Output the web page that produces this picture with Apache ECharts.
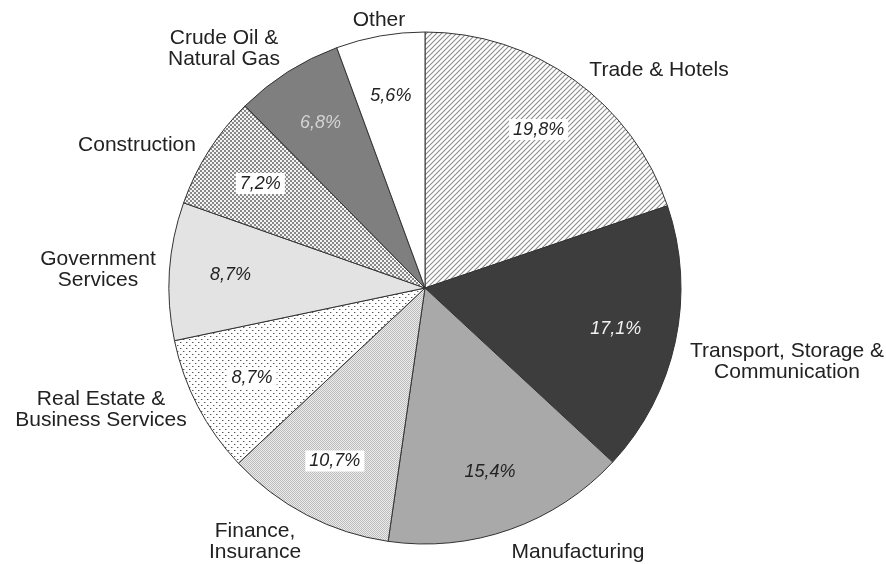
<!DOCTYPE html>
<html>
<head>
<meta charset="utf-8">
<script src="https://cdn.jsdelivr.net/npm/echarts@6/dist/echarts.min.js"></script>
<style>
html,body{margin:0;padding:0;background:#fff;}
#chart{width:886px;height:564px;}
</style>
</head>
<body>
<div id="chart"></div>
<script>
// ---- data ----
const categories = [
  'Trade & Hotels',
  'Transport, Storage &\nCommunication',
  'Manufacturing',
  'Finance,\nInsurance',
  'Real Estate &\nBusiness Services',
  'Government\nServices',
  'Construction',
  'Crude Oil &\nNatural Gas',
  'Other'
];
const shares = [19.8, 17.1, 15.4, 10.7, 8.7, 8.7, 7.2, 6.8, 5.6];

// ---- presentation (not data) ----
const outsideLabelPos = [
  [659, 70], [787, 362], [578, 552], [255, 542], [101, 410],
  [98, 270], [137, 145], [224, 49], [379, 20]
];

function pattern(size, draw) {
  const c = document.createElement('canvas');
  c.width = size; c.height = size;
  const ctx = c.getContext('2d');
  draw(ctx, size);
  return { image: c, repeat: 'repeat' };
}
const hatch = pattern(5, (ctx, s) => {
  ctx.fillStyle = '#fff'; ctx.fillRect(0, 0, s, s);
  ctx.strokeStyle = '#8c8c8c'; ctx.lineWidth = 1.1;
  ctx.beginPath();
  ctx.moveTo(-1, s + 1); ctx.lineTo(s + 1, -1);
  ctx.moveTo(-1, 1); ctx.lineTo(1, -1);
  ctx.moveTo(s - 1, s + 1); ctx.lineTo(s + 1, s - 1);
  ctx.stroke();
});
const fineDither = pattern(2, (ctx) => {
  ctx.fillStyle = '#ececec'; ctx.fillRect(0, 0, 2, 2);
  ctx.fillStyle = '#bcbcbc'; ctx.fillRect(0, 0, 1, 1); ctx.fillRect(1, 1, 1, 1);
});
const sparseDots = pattern(6, (ctx) => {
  ctx.fillStyle = '#fff'; ctx.fillRect(0, 0, 6, 6);
  ctx.fillStyle = '#555'; ctx.fillRect(0, 0, 1, 1); ctx.fillRect(3, 3, 1, 1);
  ctx.fillStyle = '#bbb'; ctx.fillRect(1, 0, 1, 1); ctx.fillRect(4, 3, 1, 1);
});
const checker = pattern(4, (ctx) => {
  ctx.fillStyle = '#888888'; ctx.fillRect(0, 0, 4, 4);
  ctx.fillStyle = '#f4f4f4'; ctx.fillRect(0, 0, 2, 2); ctx.fillRect(2, 2, 2, 2);
});

const fills = [hatch, '#3d3d3d', '#a9a9a9', fineDither, sparseDots, '#e3e3e3', checker, '#7f7f7f', '#ffffff'];
const pctColor = ['#222', '#f2f2f2', '#222', '#222', '#222', '#222', '#222', '#d4d4d4', '#222'];
const pctBox = [true, false, false, true, true, false, true, false, false];

const CX = 425, CY = 288, R = 256;

const chart = echarts.init(document.getElementById('chart'), null, { renderer: 'canvas' });

const mainData = categories.map((c, i) => ({
  name: c, value: shares[i],
  itemStyle: { color: fills[i] }
}));
const ghostData = categories.map((c, i) => ({
  name: c, value: shares[i],
  label: {
    color: pctColor[i],
    backgroundColor: pctBox[i] ? '#ffffff' : 'transparent',
    padding: pctBox[i] ? [2, 4, 1, 4] : 0
  }
}));

chart.setOption({
  animation: false,
  backgroundColor: '#ffffff',
  series: [
    {
      type: 'pie',
      center: [CX, CY],
      radius: [0, R],
      startAngle: 90,
      clockwise: true,
      avoidLabelOverlap: false,
      silent: true,
      itemStyle: { borderColor: '#333', borderWidth: 1 },
      label: {
        show: true,
        position: 'outside',
        formatter: '{b}',
        fontFamily: 'Liberation Sans, Arial, sans-serif',
        fontSize: 21,
        lineHeight: 21,
        color: '#222',
        align: 'center'
      },
      labelLine: { show: false },
      labelLayout: function (p) {
        const pos = outsideLabelPos[p.dataIndex];
        return { x: pos[0], y: pos[1], align: 'center', verticalAlign: 'middle' };
      },
      emphasis: { disabled: true },
      data: mainData
    },
    {
      type: 'pie',
      center: [CX, CY],
      radius: [R / 2, R],
      startAngle: 90,
      clockwise: true,
      silent: true,
      avoidLabelOverlap: false,
      itemStyle: { color: 'transparent', borderWidth: 0 },
      label: {
        show: true,
        position: 'inside',
        fontFamily: 'Liberation Sans, Arial, sans-serif',
        fontStyle: 'italic',
        fontSize: 18,
        formatter: (p) => p.value.toFixed(1).replace('.', ',') + '%'
      },
      labelLine: { show: false },
      emphasis: { disabled: true },
      data: ghostData
    }
  ]
});
</script>
</body>
</html>
